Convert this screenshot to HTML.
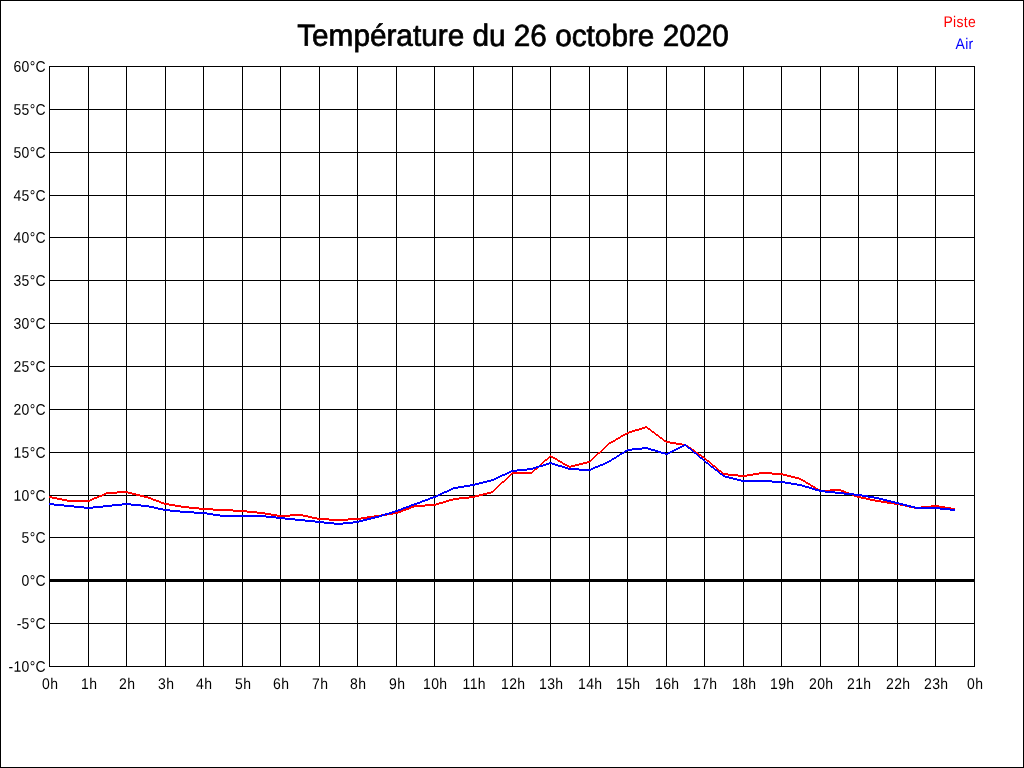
<!DOCTYPE html>
<html><head><meta charset="utf-8"><style>
html,body{margin:0;padding:0;background:#fff;}
body{width:1024px;height:768px;overflow:hidden;position:relative;}
svg{position:absolute;left:0;top:0;}
text{font-family:"Liberation Sans",sans-serif;}
</style></head><body>
<svg width="1024" height="768" viewBox="0 0 1024 768">
<rect x="0" y="0" width="1024" height="768" fill="#fff"/>
<g shape-rendering="crispEdges"><path d="M0 0h1024v1h-1024zM0 767h1024v1h-1024zM0 0h1v768h-1zM1023 0h1v768h-1z" fill="#000"/><path d="M49 66h1v601h-1zM88 66h1v601h-1zM126 66h1v601h-1zM165 66h1v601h-1zM203 66h1v601h-1zM242 66h1v601h-1zM280 66h1v601h-1zM319 66h1v601h-1zM357 66h1v601h-1zM396 66h1v601h-1zM434 66h1v601h-1zM473 66h1v601h-1zM512 66h1v601h-1zM550 66h1v601h-1zM589 66h1v601h-1zM627 66h1v601h-1zM666 66h1v601h-1zM704 66h1v601h-1zM743 66h1v601h-1zM781 66h1v601h-1zM820 66h1v601h-1zM858 66h1v601h-1zM897 66h1v601h-1zM935 66h1v601h-1zM974 66h1v601h-1zM49 66h926v1h-926zM49 109h926v1h-926zM49 152h926v1h-926zM49 195h926v1h-926zM49 237h926v1h-926zM49 280h926v1h-926zM49 323h926v1h-926zM49 366h926v1h-926zM49 409h926v1h-926zM49 452h926v1h-926zM49 495h926v1h-926zM49 537h926v1h-926zM49 579h926v3h-926zM49 623h926v1h-926zM49 666h926v1h-926z" fill="#000"/></g>
<path shape-rendering="crispEdges" fill="#f00" d="M645 426h2v1h-2zM642 427h6v1h-6zM639 428h6v1h-6zM647 428h3v1h-3zM635 429h7v1h-7zM648 429h3v1h-3zM632 430h7v1h-7zM650 430h2v1h-2zM629 431h6v1h-6zM651 431h3v1h-3zM627 432h5v1h-5zM652 432h3v1h-3zM625 433h4v1h-4zM654 433h2v1h-2zM623 434h4v1h-4zM655 434h3v1h-3zM621 435h4v1h-4zM656 435h3v1h-3zM620 436h3v1h-3zM658 436h2v1h-2zM618 437h3v1h-3zM659 437h3v1h-3zM616 438h4v1h-4zM660 438h3v1h-3zM615 439h3v1h-3zM662 439h2v1h-2zM613 440h3v1h-3zM663 440h3v1h-3zM611 441h4v1h-4zM664 441h6v1h-6zM609 442h4v1h-4zM666 442h10v1h-10zM608 443h3v1h-3zM670 443h12v1h-12zM607 444h2v1h-2zM676 444h10v1h-10zM606 445h2v1h-2zM682 445h6v1h-6zM605 446h2v1h-2zM686 446h3v1h-3zM604 447h2v1h-2zM688 447h3v1h-3zM603 448h2v1h-2zM689 448h3v1h-3zM602 449h2v1h-2zM691 449h3v1h-3zM601 450h2v1h-2zM692 450h3v1h-3zM600 451h2v1h-2zM694 451h2v1h-2zM598 452h3v1h-3zM695 452h3v1h-3zM597 453h3v1h-3zM696 453h3v1h-3zM596 454h2v1h-2zM698 454h3v1h-3zM550 455h1v1h-1zM595 455h2v1h-2zM699 455h3v1h-3zM549 456h4v1h-4zM594 456h2v1h-2zM701 456h3v1h-3zM548 457h2v1h-2zM551 457h4v1h-4zM593 457h2v1h-2zM702 457h3v1h-3zM547 458h2v1h-2zM553 458h4v1h-4zM592 458h2v1h-2zM704 458h2v1h-2zM545 459h3v1h-3zM555 459h3v1h-3zM591 459h2v1h-2zM705 459h2v1h-2zM544 460h3v1h-3zM557 460h3v1h-3zM590 460h2v1h-2zM706 460h3v1h-3zM543 461h2v1h-2zM558 461h4v1h-4zM587 461h4v1h-4zM707 461h3v1h-3zM542 462h2v1h-2zM560 462h3v1h-3zM583 462h7v1h-7zM709 462h2v1h-2zM541 463h2v1h-2zM562 463h3v1h-3zM579 463h8v1h-8zM710 463h2v1h-2zM540 464h2v1h-2zM563 464h4v1h-4zM575 464h8v1h-8zM711 464h2v1h-2zM539 465h2v1h-2zM565 465h4v1h-4zM571 465h8v1h-8zM712 465h3v1h-3zM538 466h2v1h-2zM567 466h8v1h-8zM713 466h3v1h-3zM537 467h2v1h-2zM569 467h2v1h-2zM715 467h2v1h-2zM535 468h3v1h-3zM716 468h2v1h-2zM534 469h3v1h-3zM717 469h2v1h-2zM533 470h2v1h-2zM718 470h3v1h-3zM532 471h2v1h-2zM719 471h3v1h-3zM512 472h21v1h-21zM721 472h2v1h-2zM759 472h13v1h-13zM511 473h21v1h-21zM722 473h6v1h-6zM753 473h30v1h-30zM510 474h2v1h-2zM723 474h15v1h-15zM747 474h12v1h-12zM772 474h15v1h-15zM509 475h2v1h-2zM728 475h25v1h-25zM783 475h8v1h-8zM508 476h2v1h-2zM738 476h9v1h-9zM787 476h8v1h-8zM507 477h2v1h-2zM791 477h8v1h-8zM506 478h2v1h-2zM795 478h6v1h-6zM505 479h2v1h-2zM799 479h4v1h-4zM504 480h2v1h-2zM801 480h4v1h-4zM502 481h3v1h-3zM803 481h3v1h-3zM501 482h3v1h-3zM805 482h3v1h-3zM500 483h2v1h-2zM806 483h4v1h-4zM499 484h2v1h-2zM808 484h3v1h-3zM498 485h2v1h-2zM810 485h3v1h-3zM497 486h2v1h-2zM811 486h4v1h-4zM496 487h2v1h-2zM813 487h3v1h-3zM495 488h2v1h-2zM815 488h3v1h-3zM494 489h2v1h-2zM816 489h4v1h-4zM830 489h11v1h-11zM493 490h2v1h-2zM818 490h26v1h-26zM117 491h11v1h-11zM491 491h3v1h-3zM820 491h10v1h-10zM841 491h5v1h-5zM106 492h26v1h-26zM487 492h6v1h-6zM844 492h5v1h-5zM104 493h13v1h-13zM128 493h8v1h-8zM483 493h8v1h-8zM846 493h6v1h-6zM102 494h4v1h-4zM132 494h8v1h-8zM479 494h8v1h-8zM849 494h5v1h-5zM99 495h5v1h-5zM136 495h8v1h-8zM475 495h8v1h-8zM852 495h5v1h-5zM49 496h3v1h-3zM97 496h5v1h-5zM140 496h8v1h-8zM469 496h10v1h-10zM854 496h7v1h-7zM49 497h8v1h-8zM94 497h5v1h-5zM144 497h7v1h-7zM459 497h16v1h-16zM857 497h9v1h-9zM52 498h10v1h-10zM92 498h5v1h-5zM148 498h5v1h-5zM453 498h16v1h-16zM861 498h9v1h-9zM57 499h10v1h-10zM90 499h4v1h-4zM151 499h5v1h-5zM449 499h10v1h-10zM866 499h9v1h-9zM62 500h30v1h-30zM153 500h6v1h-6zM446 500h7v1h-7zM870 500h11v1h-11zM67 501h23v1h-23zM156 501h5v1h-5zM443 501h6v1h-6zM875 501h12v1h-12zM159 502h5v1h-5zM439 502h7v1h-7zM881 502h13v1h-13zM161 503h8v1h-8zM436 503h7v1h-7zM887 503h13v1h-13zM164 504h11v1h-11zM425 504h14v1h-14zM894 504h11v1h-11zM169 505h12v1h-12zM414 505h22v1h-22zM900 505h9v1h-9zM931 505h8v1h-8zM175 506h14v1h-14zM411 506h14v1h-14zM905 506h9v1h-9zM921 506h24v1h-24zM181 507h18v1h-18zM409 507h5v1h-5zM909 507h22v1h-22zM939 507h12v1h-12zM189 508h24v1h-24zM406 508h5v1h-5zM914 508h7v1h-7zM945 508h10v1h-10zM199 509h34v1h-34zM403 509h6v1h-6zM951 509h4v1h-4zM213 510h34v1h-34zM401 510h5v1h-5zM233 511h24v1h-24zM398 511h5v1h-5zM247 512h18v1h-18zM393 512h8v1h-8zM257 513h14v1h-14zM387 513h11v1h-11zM265 514h12v1h-12zM290 514h13v1h-13zM381 514h12v1h-12zM271 515h37v1h-37zM374 515h13v1h-13zM277 516h13v1h-13zM303 516h9v1h-9zM367 516h14v1h-14zM308 517h9v1h-9zM361 517h13v1h-13zM312 518h17v1h-17zM348 518h19v1h-19zM317 519h44v1h-44zM329 520h19v1h-19z"/>
<path shape-rendering="crispEdges" fill="#00f" d="M684 444h2v1h-2zM682 445h5v1h-5zM680 446h4v1h-4zM686 446h2v1h-2zM642 447h6v1h-6zM678 447h4v1h-4zM687 447h3v1h-3zM632 448h19v1h-19zM676 448h4v1h-4zM688 448h3v1h-3zM627 449h15v1h-15zM648 449h7v1h-7zM674 449h4v1h-4zM690 449h2v1h-2zM625 450h7v1h-7zM651 450h7v1h-7zM672 450h4v1h-4zM691 450h2v1h-2zM624 451h3v1h-3zM655 451h6v1h-6zM670 451h4v1h-4zM692 451h2v1h-2zM622 452h3v1h-3zM658 452h7v1h-7zM668 452h4v1h-4zM693 452h3v1h-3zM620 453h4v1h-4zM661 453h9v1h-9zM694 453h3v1h-3zM619 454h3v1h-3zM665 454h3v1h-3zM696 454h2v1h-2zM617 455h3v1h-3zM697 455h2v1h-2zM616 456h3v1h-3zM698 456h2v1h-2zM614 457h3v1h-3zM699 457h3v1h-3zM612 458h4v1h-4zM700 458h3v1h-3zM611 459h3v1h-3zM702 459h2v1h-2zM609 460h3v1h-3zM703 460h2v1h-2zM607 461h4v1h-4zM704 461h2v1h-2zM549 462h3v1h-3zM605 462h4v1h-4zM705 462h3v1h-3zM546 463h9v1h-9zM603 463h4v1h-4zM706 463h3v1h-3zM543 464h6v1h-6zM552 464h6v1h-6zM600 464h5v1h-5zM708 464h2v1h-2zM539 465h7v1h-7zM555 465h7v1h-7zM598 465h5v1h-5zM709 465h2v1h-2zM536 466h7v1h-7zM558 466h7v1h-7zM595 466h5v1h-5zM710 466h3v1h-3zM533 467h6v1h-6zM562 467h6v1h-6zM593 467h5v1h-5zM711 467h3v1h-3zM527 468h9v1h-9zM565 468h14v1h-14zM591 468h4v1h-4zM713 468h2v1h-2zM517 469h16v1h-16zM568 469h25v1h-25zM714 469h3v1h-3zM511 470h16v1h-16zM579 470h12v1h-12zM715 470h3v1h-3zM509 471h8v1h-8zM717 471h2v1h-2zM507 472h4v1h-4zM718 472h2v1h-2zM505 473h4v1h-4zM719 473h3v1h-3zM502 474h5v1h-5zM720 474h3v1h-3zM500 475h5v1h-5zM722 475h3v1h-3zM498 476h4v1h-4zM723 476h6v1h-6zM496 477h4v1h-4zM725 477h8v1h-8zM494 478h4v1h-4zM729 478h8v1h-8zM491 479h5v1h-5zM733 479h8v1h-8zM487 480h7v1h-7zM737 480h35v1h-35zM483 481h8v1h-8zM741 481h44v1h-44zM479 482h8v1h-8zM772 482h19v1h-19zM475 483h8v1h-8zM785 483h12v1h-12zM470 484h9v1h-9zM791 484h11v1h-11zM464 485h11v1h-11zM797 485h8v1h-8zM458 486h12v1h-12zM802 486h7v1h-7zM453 487h11v1h-11zM805 487h7v1h-7zM451 488h7v1h-7zM809 488h6v1h-6zM449 489h4v1h-4zM812 489h7v1h-7zM447 490h4v1h-4zM815 490h10v1h-10zM444 491h5v1h-5zM819 491h16v1h-16zM442 492h5v1h-5zM825 492h19v1h-19zM440 493h4v1h-4zM835 493h19v1h-19zM438 494h4v1h-4zM844 494h18v1h-18zM436 495h4v1h-4zM854 495h14v1h-14zM433 496h5v1h-5zM862 496h12v1h-12zM430 497h6v1h-6zM868 497h11v1h-11zM428 498h5v1h-5zM874 498h9v1h-9zM425 499h5v1h-5zM879 499h8v1h-8zM422 500h6v1h-6zM883 500h8v1h-8zM420 501h5v1h-5zM887 501h8v1h-8zM417 502h5v1h-5zM891 502h8v1h-8zM49 503h5v1h-5zM122 503h9v1h-9zM414 503h6v1h-6zM895 503h8v1h-8zM49 504h15v1h-15zM112 504h29v1h-29zM411 504h6v1h-6zM899 504h8v1h-8zM54 505h20v1h-20zM103 505h19v1h-19zM131 505h18v1h-18zM409 505h5v1h-5zM903 505h8v1h-8zM64 506h20v1h-20zM93 506h19v1h-19zM141 506h13v1h-13zM406 506h5v1h-5zM907 506h8v1h-8zM74 507h29v1h-29zM149 507h9v1h-9zM403 507h6v1h-6zM911 507h29v1h-29zM84 508h9v1h-9zM154 508h9v1h-9zM401 508h5v1h-5zM915 508h35v1h-35zM158 509h12v1h-12zM398 509h5v1h-5zM940 509h15v1h-15zM163 510h17v1h-17zM395 510h6v1h-6zM950 510h5v1h-5zM170 511h24v1h-24zM392 511h6v1h-6zM180 512h27v1h-27zM389 512h6v1h-6zM194 513h19v1h-19zM385 513h7v1h-7zM207 514h13v1h-13zM382 514h7v1h-7zM213 515h53v1h-53zM379 515h6v1h-6zM220 516h56v1h-56zM375 516h7v1h-7zM266 517h19v1h-19zM371 517h8v1h-8zM276 518h19v1h-19zM367 518h8v1h-8zM285 519h20v1h-20zM363 519h8v1h-8zM295 520h20v1h-20zM359 520h8v1h-8zM305 521h19v1h-19zM353 521h10v1h-10zM315 522h19v1h-19zM343 522h16v1h-16zM324 523h29v1h-29zM334 524h9v1h-9z"/>
</svg>
<svg width="1024" height="768" style="position:absolute;left:0;top:0;will-change:transform" ><g font-family="Liberation Sans, sans-serif"><text transform="translate(46,71.8) scale(1,1.1) rotate(0.05)" text-anchor="end" font-size="14" letter-spacing="0.3" fill="#000" >60°C</text><text transform="translate(46,114.8) scale(1,1.1) rotate(0.05)" text-anchor="end" font-size="14" letter-spacing="0.3" fill="#000" >55°C</text><text transform="translate(46,157.8) scale(1,1.1) rotate(0.05)" text-anchor="end" font-size="14" letter-spacing="0.3" fill="#000" >50°C</text><text transform="translate(46,200.8) scale(1,1.1) rotate(0.05)" text-anchor="end" font-size="14" letter-spacing="0.3" fill="#000" >45°C</text><text transform="translate(46,242.8) scale(1,1.1) rotate(0.05)" text-anchor="end" font-size="14" letter-spacing="0.3" fill="#000" >40°C</text><text transform="translate(46,285.8) scale(1,1.1) rotate(0.05)" text-anchor="end" font-size="14" letter-spacing="0.3" fill="#000" >35°C</text><text transform="translate(46,328.8) scale(1,1.1) rotate(0.05)" text-anchor="end" font-size="14" letter-spacing="0.3" fill="#000" >30°C</text><text transform="translate(46,371.8) scale(1,1.1) rotate(0.05)" text-anchor="end" font-size="14" letter-spacing="0.3" fill="#000" >25°C</text><text transform="translate(46,414.8) scale(1,1.1) rotate(0.05)" text-anchor="end" font-size="14" letter-spacing="0.3" fill="#000" >20°C</text><text transform="translate(46,457.8) scale(1,1.1) rotate(0.05)" text-anchor="end" font-size="14" letter-spacing="0.3" fill="#000" >15°C</text><text transform="translate(46,500.8) scale(1,1.1) rotate(0.05)" text-anchor="end" font-size="14" letter-spacing="0.3" fill="#000" >10°C</text><text transform="translate(46,542.8) scale(1,1.1) rotate(0.05)" text-anchor="end" font-size="14" letter-spacing="0.3" fill="#000" >5°C</text><text transform="translate(46,585.8) scale(1,1.1) rotate(0.05)" text-anchor="end" font-size="14" letter-spacing="0.3" fill="#000" >0°C</text><text transform="translate(46,628.8) scale(1,1.1) rotate(0.05)" text-anchor="end" font-size="14" letter-spacing="0.3" fill="#000" >-5°C</text><text transform="translate(46,671.8) scale(1,1.1) rotate(0.05)" text-anchor="end" font-size="14" letter-spacing="0.3" fill="#000" >-10°C</text><text transform="translate(50.2,689) scale(1,1.1) rotate(0.05)" text-anchor="middle" font-size="14" letter-spacing="0.3" fill="#000" >0h</text><text transform="translate(89.2,689) scale(1,1.1) rotate(0.05)" text-anchor="middle" font-size="14" letter-spacing="0.3" fill="#000" >1h</text><text transform="translate(127.2,689) scale(1,1.1) rotate(0.05)" text-anchor="middle" font-size="14" letter-spacing="0.3" fill="#000" >2h</text><text transform="translate(166.2,689) scale(1,1.1) rotate(0.05)" text-anchor="middle" font-size="14" letter-spacing="0.3" fill="#000" >3h</text><text transform="translate(204.2,689) scale(1,1.1) rotate(0.05)" text-anchor="middle" font-size="14" letter-spacing="0.3" fill="#000" >4h</text><text transform="translate(243.2,689) scale(1,1.1) rotate(0.05)" text-anchor="middle" font-size="14" letter-spacing="0.3" fill="#000" >5h</text><text transform="translate(281.2,689) scale(1,1.1) rotate(0.05)" text-anchor="middle" font-size="14" letter-spacing="0.3" fill="#000" >6h</text><text transform="translate(320.2,689) scale(1,1.1) rotate(0.05)" text-anchor="middle" font-size="14" letter-spacing="0.3" fill="#000" >7h</text><text transform="translate(358.2,689) scale(1,1.1) rotate(0.05)" text-anchor="middle" font-size="14" letter-spacing="0.3" fill="#000" >8h</text><text transform="translate(397.2,689) scale(1,1.1) rotate(0.05)" text-anchor="middle" font-size="14" letter-spacing="0.3" fill="#000" >9h</text><text transform="translate(435.2,689) scale(1,1.1) rotate(0.05)" text-anchor="middle" font-size="14" letter-spacing="0.3" fill="#000" >10h</text><text transform="translate(474.2,689) scale(1,1.1) rotate(0.05)" text-anchor="middle" font-size="14" letter-spacing="0.3" fill="#000" >11h</text><text transform="translate(513.2,689) scale(1,1.1) rotate(0.05)" text-anchor="middle" font-size="14" letter-spacing="0.3" fill="#000" >12h</text><text transform="translate(551.2,689) scale(1,1.1) rotate(0.05)" text-anchor="middle" font-size="14" letter-spacing="0.3" fill="#000" >13h</text><text transform="translate(590.2,689) scale(1,1.1) rotate(0.05)" text-anchor="middle" font-size="14" letter-spacing="0.3" fill="#000" >14h</text><text transform="translate(628.2,689) scale(1,1.1) rotate(0.05)" text-anchor="middle" font-size="14" letter-spacing="0.3" fill="#000" >15h</text><text transform="translate(667.2,689) scale(1,1.1) rotate(0.05)" text-anchor="middle" font-size="14" letter-spacing="0.3" fill="#000" >16h</text><text transform="translate(705.2,689) scale(1,1.1) rotate(0.05)" text-anchor="middle" font-size="14" letter-spacing="0.3" fill="#000" >17h</text><text transform="translate(744.2,689) scale(1,1.1) rotate(0.05)" text-anchor="middle" font-size="14" letter-spacing="0.3" fill="#000" >18h</text><text transform="translate(782.2,689) scale(1,1.1) rotate(0.05)" text-anchor="middle" font-size="14" letter-spacing="0.3" fill="#000" >19h</text><text transform="translate(821.2,689) scale(1,1.1) rotate(0.05)" text-anchor="middle" font-size="14" letter-spacing="0.3" fill="#000" >20h</text><text transform="translate(859.2,689) scale(1,1.1) rotate(0.05)" text-anchor="middle" font-size="14" letter-spacing="0.3" fill="#000" >21h</text><text transform="translate(898.2,689) scale(1,1.1) rotate(0.05)" text-anchor="middle" font-size="14" letter-spacing="0.3" fill="#000" >22h</text><text transform="translate(936.2,689) scale(1,1.1) rotate(0.05)" text-anchor="middle" font-size="14" letter-spacing="0.3" fill="#000" >23h</text><text transform="translate(975.2,689) scale(1,1.1) rotate(0.05)" text-anchor="middle" font-size="14" letter-spacing="0.3" fill="#000" >0h</text><text transform="translate(513,45.9) scale(0.992,1.02) rotate(0.05)" text-anchor="middle" font-size="30" letter-spacing="0" fill="#000" stroke="#000" stroke-width="0.7">Température du 26 octobre 2020</text><text transform="translate(976,27) scale(1,1.1) rotate(0.05)" text-anchor="end" font-size="14" letter-spacing="0.3" fill="#f00" >Piste</text><text transform="translate(973.5,49) scale(1,1.1) rotate(0.05)" text-anchor="end" font-size="14" letter-spacing="0.3" fill="#00f" >Air</text></g></svg>
</body></html>
